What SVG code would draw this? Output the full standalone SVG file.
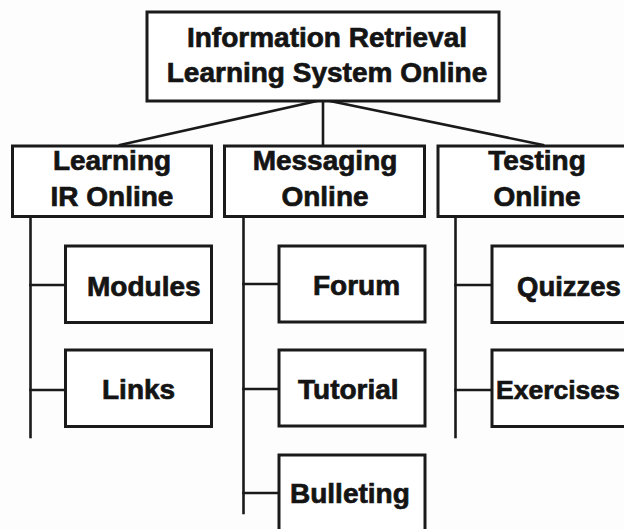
<svg xmlns="http://www.w3.org/2000/svg" width="624" height="529" viewBox="0 0 624 529">
<style>
.box{fill:#fff;stroke:#1a1a1a;stroke-width:3}
.ln{fill:none;stroke:#1a1a1a;stroke-width:2.6;stroke-linecap:square}
text{font-family:"Liberation Sans",Arial,sans-serif;font-weight:bold;font-size:28px;fill:#141414;stroke:#141414;stroke-width:0.7}
.m{text-anchor:middle}
</style>
<rect x="0" y="0" width="624" height="529" fill="#fdfdfd"/>
<g id="connectors">
<line class="ln" x1="317" y1="101" x2="120" y2="145"/>
<line class="ln" x1="323" y1="101" x2="323" y2="145"/>
<line class="ln" x1="330" y1="101" x2="543" y2="145"/>
<line class="ln" x1="30.5" y1="217" x2="30.5" y2="437"/>
<line class="ln" x1="30.5" y1="285" x2="65" y2="285"/>
<line class="ln" x1="30.5" y1="390" x2="65" y2="390"/>
<line class="ln" x1="243.5" y1="217" x2="243.5" y2="513"/>
<line class="ln" x1="243.5" y1="284" x2="279" y2="284"/>
<line class="ln" x1="243.5" y1="389" x2="279" y2="389"/>
<line class="ln" x1="243.5" y1="493" x2="279" y2="493"/>
<line class="ln" x1="455.5" y1="217" x2="455.5" y2="437"/>
<line class="ln" x1="455.5" y1="285" x2="492" y2="285"/>
<line class="ln" x1="455.5" y1="390" x2="492" y2="390"/>
</g>
<g id="root">
<rect class="box" x="147" y="12" width="352" height="89"/>
<text class="m" x="327" y="47">Information Retrieval</text>
<text class="m" x="327" y="82">Learning System Online</text>
</g>
<g id="learning">
<rect class="box" x="12.5" y="146" width="199" height="70.5"/>
<text class="m" x="112" y="170">Learning</text>
<text class="m" x="112" y="206">IR Online</text>
</g>
<g id="messaging">
<rect class="box" x="224.5" y="146" width="200" height="70.5"/>
<text class="m" x="325" y="170">Messaging</text>
<text class="m" x="325" y="206">Online</text>
</g>
<g id="testing">
<rect class="box" x="438" y="146" width="200" height="70.5"/>
<text class="m" x="537" y="170">Testing</text>
<text class="m" x="537" y="206">Online</text>
</g>
<g id="modules">
<rect class="box" x="65.5" y="246" width="146" height="76.5"/>
<text x="87" y="296">Modules</text>
</g>
<g id="links">
<rect class="box" x="65.5" y="350" width="146" height="76.5"/>
<text x="102" y="399">Links</text>
</g>
<g id="forum">
<rect class="box" x="279" y="246" width="146" height="76"/>
<text x="313" y="295">Forum</text>
</g>
<g id="tutorial">
<rect class="box" x="279" y="350" width="146" height="76"/>
<text x="298" y="399">Tutorial</text>
</g>
<g id="bulleting">
<rect class="box" x="279" y="455" width="146" height="80"/>
<text x="290" y="503">Bulleting</text>
</g>
<g id="quizzes">
<rect class="box" x="492" y="246" width="150" height="76.5"/>
<text x="517" y="296" style="font-size:27.5px">Quizzes</text>
</g>
<g id="exercises">
<rect class="box" x="492" y="350" width="150" height="76.5"/>
<text x="496" y="399" style="font-size:26.5px">Exercises</text>
</g>
</svg>
